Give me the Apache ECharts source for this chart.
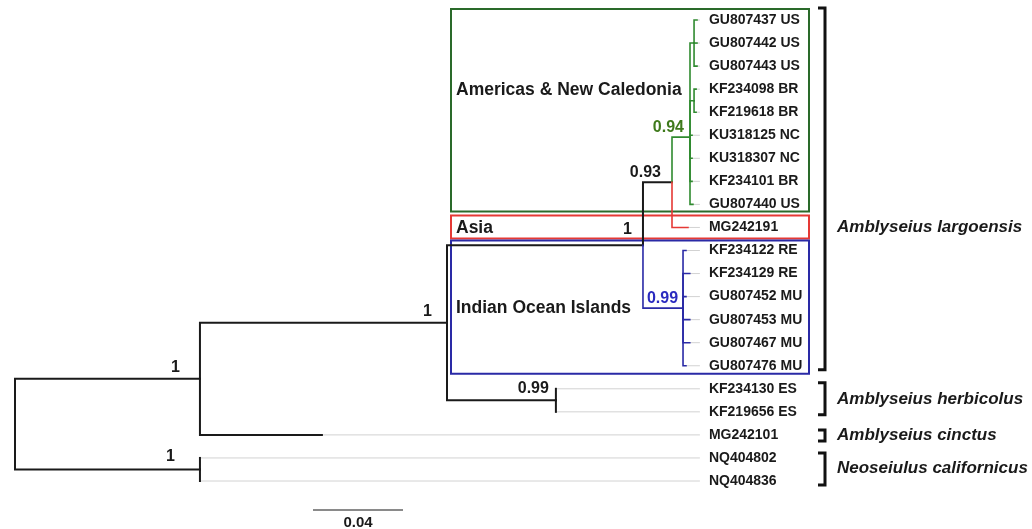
<!DOCTYPE html>
<html>
<head>
<meta charset="utf-8">
<title>Amblyseius phylogeny</title>
<script src="https://cdn.jsdelivr.net/npm/echarts@6/dist/echarts.min.js"></script>
<style>
  html, body { margin: 0; padding: 0; background: #ffffff; }
  #chart { width: 1032px; height: 529px; }
</style>
</head>
<body>
<div id="chart"></div>
<script>
// ---- Tree data (branch lengths in substitutions per site) ----
const tipNames = ['GU807437 US', 'GU807442 US', 'GU807443 US', 'KF234098 BR', 'KF219618 BR',
  'KU318125 NC', 'KU318307 NC', 'KF234101 BR', 'GU807440 US', 'MG242191',
  'KF234122 RE', 'KF234129 RE', 'GU807452 MU', 'GU807453 MU', 'GU807467 MU', 'GU807476 MU',
  'KF234130 ES', 'KF219656 ES', 'MG242101', 'NQ404802', 'NQ404836'];
const tipParent = ['n8', 'n8', 'n8', 'n9', 'n9', 'n7', 'n7', 'n7', 'n7', 'n6',
  'n10', 'n10', 'n10', 'n10', 'n10', 'n10', 'n4', 'n4', 'n1', 'n2', 'n2'];
const tipLength = [0.0013, 0.0013, 0.0013, 0.0009, 0.0009, 0.0009, 0.0009, 0.0009, 0.0013, 0.0071,
  0.0013, 0.0030, 0.0013, 0.0030, 0.0030, 0.0013, 0, 0, 0.0542, 0, 0];

const nodeNames = ['root', 'n1', 'n2', 'n3', 'n4', 'n5', 'n6', 'n7', 'n8', 'n9', 'n10'];
const nodeParent = [null, 'root', 'root', 'n1', 'n3', 'n3', 'n5', 'n6', 'n7', 'n7', 'n5'];
const nodeLength = [0, 0.0822, 0.0822, 0.1098, 0.0484, 0.0871, 0.0129, 0.0080, 0.0018, 0.0018, 0.0178];
const nodeSupport = ['', '1', '1', '1', '0.99', '1', '0.93', '0.94', '', '', '0.99'];

// Coloured clades (edge colour is inherited from the nearest listed ancestor)
const cladeRoots = ['n7', 'MG242191', 'n10'];

// Geographic groups inside A. largoensis
const regionNames = ['Americas & New Caledonia', 'Asia', 'Indian Ocean Islands'];
const regionFirstTip = [0, 9, 10];
const regionLastTip = [8, 9, 15];

// Species brackets
const speciesNames = ['Amblyseius largoensis', 'Amblyseius herbicolus', 'Amblyseius cinctus', 'Neoseiulus californicus'];
const speciesFirstTip = [0, 16, 18, 19];
const speciesLastTip = [15, 17, 18, 20];

const scaleBarValue = 0.04;
const scaleBarLabel = '0.04';

// ---- Styling / layout ----
const FONT = '"Liberation Sans", Arial, sans-serif';
const cladeColors = ['#2f8a2f', '#e53935', '#2a2aa6'];
const regionBoxColors = ['#2a6a2a', '#e53935', '#2a2aa6'];
const supportColors = { n7: '#3f7a1c', n10: '#2b2bbf' };
const supportOffset = {
  n1: [-20, -11], n2: [-25, -13], n3: [-15, -11], n4: [-7, -12], n5: [-11, -16],
  n6: [-11, -10], n7: [-6, -10], n10: [-5, -10]
};
const layout = {
  alignValue: 0.3044,            // x where the dotted guides end and tip labels begin
  boxLeft: 451, boxRight: 809,
  boxPad: [[11, 7], [12, 11], [10, 8]],
  regionLabelRow: [3.05, 9.05, 12.5],
  regionLabelX: 456,
  bracketX: [818, 825],
  bracketPad: [[12, 4], [6, 3], [5, 6], [5, 4]],
  speciesLabelRow: [9, 16.45, 18, 19.45],
  speciesLabelX: 837,
  scaleX: 313, scaleY: 510
};

// ---- Build tree geometry ----
const parentOf = {}, lengthOf = {}, childrenOf = {};
nodeNames.forEach((n, i) => { parentOf[n] = nodeParent[i]; lengthOf[n] = nodeLength[i]; childrenOf[n] = []; });
tipNames.forEach((t, i) => { parentOf[t] = tipParent[i]; lengthOf[t] = tipLength[i]; });
nodeNames.forEach(n => { if (parentOf[n]) childrenOf[parentOf[n]].push(n); });
tipNames.forEach(t => childrenOf[parentOf[t]].push(t));

const posX = {}, posY = {};
function depth(n) {
  if (posX[n] !== undefined) return posX[n];
  posX[n] = parentOf[n] ? depth(parentOf[n]) + lengthOf[n] : 0;
  return posX[n];
}
tipNames.forEach((t, i) => { posY[t] = i; });
function row(n) {
  if (posY[n] !== undefined) return posY[n];
  const ys = childrenOf[n].map(row);
  posY[n] = ys.reduce((a, b) => a + b, 0) / ys.length;
  return posY[n];
}
nodeNames.forEach(n => { depth(n); row(n); });
tipNames.forEach(t => depth(t));

function cladeIndex(n) {
  let cur = n;
  while (cur) {
    const k = cladeRoots.indexOf(cur);
    if (k >= 0) return k;
    cur = parentOf[cur];
  }
  return -1;
}

// Edge data: [parentX, parentRow, childX, childRow, colourIndex, isTip]
const edgeData = [];
nodeNames.concat(tipNames).forEach(n => {
  const p = parentOf[n];
  if (!p) return;
  edgeData.push([posX[p], posY[p], posX[n], posY[n], cladeIndex(n), tipNames.indexOf(n) >= 0 ? 1 : 0]);
});
const guideData = tipNames.map(t => [posX[t], posY[t], layout.alignValue]);
const tipLabelData = tipNames.map((t, i) => [layout.alignValue, i]);
const supportData = [];
nodeNames.forEach(n => { if (nodeSupport[nodeNames.indexOf(n)]) supportData.push([posX[n], posY[n], nodeNames.indexOf(n)]); });

const chart = echarts.init(document.getElementById('chart'), null, { renderer: 'canvas' });

const option = {
  backgroundColor: '#ffffff',
  animation: false,
  grid: { left: 15, top: 20, width: 1012.5, height: 461, containLabel: false },
  xAxis: { type: 'value', min: 0, max: 0.45, show: false },
  yAxis: { type: 'value', min: 0, max: 20, inverse: true, show: false },
  series: [
    // dotted guides from tips to the labels
    {
      type: 'custom', clip: false, z: 1,
      data: guideData,
      renderItem: (params, api) => {
        const a = api.coord([api.value(0), api.value(1)]);
        const b = api.coord([api.value(2), api.value(1)]);
        return { type: 'line', shape: { x1: a[0], y1: a[1], x2: b[0], y2: b[1] },
          style: { stroke: '#d2d2d2', lineWidth: 1 } };
      }
    },
    // region boxes
    {
      type: 'custom', clip: false, z: 2,
      data: regionNames.map((r, i) => [regionFirstTip[i], regionLastTip[i], i]),
      renderItem: (params, api) => {
        const i = api.value(2);
        const top = api.coord([0, api.value(0)])[1] - layout.boxPad[i][0];
        const bottom = api.coord([0, api.value(1)])[1] + layout.boxPad[i][1];
        const ly = api.coord([0, layout.regionLabelRow[i]])[1];
        return { type: 'group', children: [
          { type: 'rect', shape: { x: layout.boxLeft, y: top, width: layout.boxRight - layout.boxLeft, height: bottom - top },
            style: { fill: null, stroke: regionBoxColors[i], lineWidth: 2 } },
          { type: 'text', x: layout.regionLabelX, y: ly,
            style: { text: regionNames[i], fill: '#1a1a1a', font: 'bold 17.5px ' + FONT, align: 'left', verticalAlign: 'middle' } }
        ] };
      }
    },
    // branches (elbow edges)
    {
      type: 'custom', clip: false, z: 3,
      data: edgeData,
      renderItem: (params, api) => {
        const p0 = api.coord([api.value(0), api.value(1)]);
        const p1 = api.coord([api.value(0), api.value(3)]);
        const p2 = api.coord([api.value(2), api.value(3)]);
        const ci = api.value(4);
        const col = ci >= 0 ? cladeColors[ci] : '#1a1a1a';
        return { type: 'polyline', shape: { points: [p0, p1, p2] },
          style: { stroke: col, lineWidth: ci >= 0 ? 1.6 : 2, fill: null, lineJoin: 'miter', lineCap: 'square' } };
      }
    },
    // tip labels
    {
      type: 'custom', clip: false, z: 4,
      data: tipLabelData,
      renderItem: (params, api) => {
        const p = api.coord([api.value(0), api.value(1)]);
        return { type: 'text', x: p[0] + 9, y: p[1],
          style: { text: tipNames[params.dataIndex], fill: '#1a1a1a', font: 'bold 14px ' + FONT, align: 'left', verticalAlign: 'middle' } };
      }
    },
    // posterior support values
    {
      type: 'custom', clip: false, z: 5,
      data: supportData,
      renderItem: (params, api) => {
        const p = api.coord([api.value(0), api.value(1)]);
        const name = nodeNames[api.value(2)];
        const off = supportOffset[name] || [-8, -11];
        return { type: 'text', x: p[0] + off[0], y: p[1] + off[1],
          style: { text: nodeSupport[api.value(2)], fill: supportColors[name] || '#1a1a1a',
            font: 'bold 16px ' + FONT, align: 'right', verticalAlign: 'middle' } };
      }
    },
    // species brackets and names
    {
      type: 'custom', clip: false, z: 6,
      data: speciesNames.map((s, i) => [speciesFirstTip[i], speciesLastTip[i], i]),
      renderItem: (params, api) => {
        const i = api.value(2);
        const top = api.coord([0, api.value(0)])[1] - layout.bracketPad[i][0];
        const bottom = api.coord([0, api.value(1)])[1] + layout.bracketPad[i][1];
        const ly = api.coord([0, layout.speciesLabelRow[i]])[1];
        const [x0, x1] = layout.bracketX;
        return { type: 'group', children: [
          { type: 'polyline', shape: { points: [[x0, top], [x1, top], [x1, bottom], [x0, bottom]] },
            style: { stroke: '#111111', lineWidth: 3, fill: null, lineJoin: 'miter' } },
          { type: 'text', x: layout.speciesLabelX, y: ly,
            style: { text: speciesNames[i], fill: '#1a1a1a', font: 'italic bold 17px ' + FONT, align: 'left', verticalAlign: 'middle' } }
        ] };
      }
    },
    // scale bar
    {
      type: 'custom', clip: false, z: 7,
      data: [[scaleBarValue]],
      renderItem: (params, api) => {
        const w = api.size([api.value(0), 0])[0];
        const x = layout.scaleX, y = layout.scaleY;
        return { type: 'group', children: [
          { type: 'line', shape: { x1: x, y1: y, x2: x + w, y2: y }, style: { stroke: '#8a8a8a', lineWidth: 2 } },
          { type: 'text', x: x + w / 2, y: y + 13,
            style: { text: scaleBarLabel, fill: '#1a1a1a', font: 'bold 15px ' + FONT, align: 'center', verticalAlign: 'middle' } }
        ] };
      }
    }
  ]
};
chart.setOption(option);
</script>
</body>
</html>
